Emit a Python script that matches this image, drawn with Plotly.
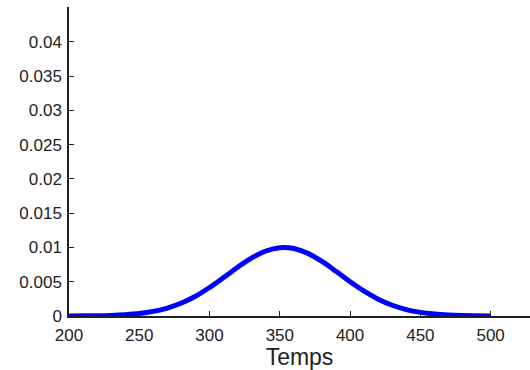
import plotly.graph_objects as go

# Values
temps = [200, 210, 220, 230, 240, 250, 260, 270, 280, 290, 300, 310, 320, 330, 340,
         350, 360, 370, 380, 390, 400, 410, 420, 430, 440, 450, 460, 470, 480, 490, 500]
densite = [0.00001, 0.00002, 0.00004, 0.00009, 0.00019, 0.00036, 0.00067, 0.00116,
           0.00189, 0.00289, 0.00416, 0.00561, 0.00712, 0.00848, 0.00949, 0.00997,
           0.00985, 0.00914, 0.00796, 0.00652, 0.00501, 0.00362, 0.00246, 0.00157,
           0.00094, 0.00053, 0.00028, 0.00014, 0.00006, 0.00003, 0.00001]

x_ticks = [200, 250, 300, 350, 400, 450, 500]
y_ticks = [0, 0.005, 0.01, 0.015, 0.02, 0.025, 0.03, 0.035, 0.04]
y_labels = ["0", "0.005", "0.01", "0.015", "0.02", "0.025", "0.03", "0.035", "0.04"]

fig = go.Figure()
fig.add_trace(go.Scatter(x=temps, y=densite, mode="lines",
                         line=dict(color="#0000ff", width=5, shape="spline"),
                         showlegend=False))

font = dict(family="Liberation Sans, Arial, sans-serif", size=17, color="#222222")
fig.update_layout(
    width=530, height=370,
    margin=dict(l=69, r=0, t=7, b=54),
    paper_bgcolor="white", plot_bgcolor="white",
    font=font,
    xaxis=dict(range=[200, 528], tickvals=x_ticks, ticks="inside", ticklen=5,
               tickcolor="#222222", showline=True, linecolor="#222222", linewidth=1.5,
               showgrid=False, zeroline=False, tickfont=font, ticklabelstandoff=3,
               title=dict(text="Temps", font=dict(family="Liberation Sans, Arial, sans-serif",
                                                 size=23, color="#222222"), standoff=4)),
    yaxis=dict(range=[0, 0.0451], tickvals=y_ticks, ticktext=y_labels, ticks="inside",
               ticklen=5, tickcolor="#222222", showline=True, linecolor="#222222",
               linewidth=1.5, showgrid=False, zeroline=False, tickfont=font,
               ticklabelstandoff=2),
)

fig.write_html("out.html")
